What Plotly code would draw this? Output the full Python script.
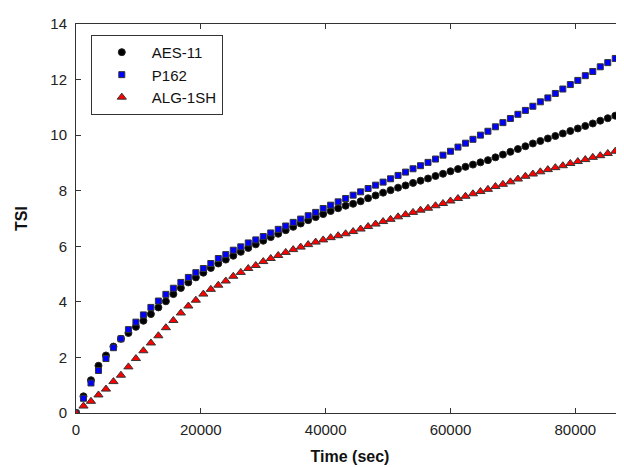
import plotly.graph_objects as go

time_sec = [i * 1200 for i in range(73)]

aes_11 = [0.0, 0.6, 1.18, 1.7, 2.07, 2.39, 2.67, 2.88, 3.1, 3.32, 3.56, 3.8, 4.02, 4.28, 4.5,
          4.7, 4.88, 5.05, 5.22, 5.38, 5.52, 5.66, 5.8, 5.94, 6.07, 6.2, 6.33, 6.45, 6.58, 6.7,
          6.82, 6.94, 7.05, 7.16, 7.27, 7.37, 7.46, 7.53, 7.62, 7.73, 7.83, 7.93, 8.02, 8.11, 8.19,
          8.28, 8.36, 8.44, 8.53, 8.61, 8.7, 8.78, 8.86, 8.94, 9.02, 9.1, 9.2, 9.3, 9.4, 9.5,
          9.6, 9.7, 9.79, 9.88, 9.97, 10.06, 10.15, 10.24, 10.33, 10.42, 10.52, 10.61, 10.7]

p162 = [0.0, 0.53, 1.08, 1.53, 1.96, 2.35, 2.67, 3.0, 3.27, 3.53, 3.8, 4.03, 4.27, 4.49, 4.7,
        4.88, 5.05, 5.2, 5.38, 5.56, 5.7, 5.86, 5.98, 6.12, 6.23, 6.35, 6.48, 6.61, 6.73, 6.86,
        6.98, 7.1, 7.22, 7.36, 7.48, 7.6, 7.72, 7.84, 7.96, 8.08, 8.2, 8.31, 8.43, 8.55, 8.67,
        8.79, 8.9, 9.02, 9.14, 9.28, 9.42, 9.57, 9.71, 9.85, 10.0, 10.14, 10.3, 10.45, 10.6, 10.75,
        10.89, 11.04, 11.2, 11.34, 11.5, 11.66, 11.82, 11.97, 12.14, 12.29, 12.46, 12.61, 12.76]

alg_1sh = [0.0, 0.25, 0.42, 0.65, 0.86, 1.13, 1.36, 1.66, 1.96, 2.24, 2.52, 2.78, 3.07, 3.33, 3.6,
           3.85, 4.06, 4.28, 4.45, 4.6, 4.75, 4.92, 5.06, 5.2, 5.31, 5.45, 5.56, 5.67, 5.78, 5.88,
           5.97, 6.06, 6.15, 6.23, 6.31, 6.38, 6.45, 6.53, 6.62, 6.71, 6.8, 6.89, 6.97, 7.06, 7.14,
           7.22, 7.3, 7.37, 7.46, 7.54, 7.63, 7.72, 7.8, 7.89, 7.97, 8.05, 8.15, 8.23, 8.32, 8.42,
           8.52, 8.6, 8.68, 8.76, 8.83, 8.9, 8.98, 9.05, 9.12, 9.2, 9.26, 9.34, 9.42]

series_names = ["AES-11", "P162", "ALG-1SH"]
x_ticks = [0, 20000, 40000, 60000, 80000]
y_ticks = [0, 2, 4, 6, 8, 10, 12, 14]

FONT = "Arial, Liberation Sans, sans-serif"

fig = go.Figure()
fig.add_trace(go.Scatter(
    x=time_sec, y=aes_11, mode="markers", name=series_names[0],
    marker=dict(symbol="circle", size=7, color="black", line=dict(color="#222222", width=1)),
))
fig.add_trace(go.Scatter(
    x=time_sec, y=p162, mode="markers", name=series_names[1],
    marker=dict(symbol="square", size=6, color="#0000ff", line=dict(color="#333333", width=1)),
))
fig.add_trace(go.Scatter(
    x=time_sec, y=alg_1sh, mode="markers", name=series_names[2],
    marker=dict(symbol="triangle-up", size=8, color="#ff0000", line=dict(color="#333333", width=1)),
))

axis_common = dict(
    showgrid=False, zeroline=False, showline=True, linecolor="#333333", linewidth=1,
    mirror="ticks", ticks="inside", ticklen=5, tickcolor="#333333", tickwidth=1,
    tickfont=dict(family=FONT, size=15, color="#222222"),
)

fig.update_layout(
    width=624, height=467,
    margin=dict(l=68, r=7, t=12, b=62),
    paper_bgcolor="white", plot_bgcolor="white",
    font=dict(family=FONT, size=15, color="#111111"),
    showlegend=True,
    legend=dict(
        x=0.027, y=0.972, xanchor="left", yanchor="top",
        bordercolor="#333333", borderwidth=1, bgcolor="white",
        font=dict(family=FONT, size=15, color="#111111"),
        tracegroupgap=0, itemwidth=50,
    ),
    xaxis=dict(
        range=[0, 87800], tickvals=x_ticks, ticktext=[str(v) for v in x_ticks],
        ticklabelstandoff=3,
        title=dict(text="<b>Time (sec)</b>", font=dict(family=FONT, size=16, color="#111111"), standoff=13),
        **axis_common,
    ),
    yaxis=dict(
        range=[0, 14], tickvals=y_ticks, ticktext=[str(v) for v in y_ticks],
        ticklabelstandoff=5,
        title=dict(text="<b>TSI</b>", font=dict(family=FONT, size=16, color="#111111"), standoff=18),
        **axis_common,
    ),
)

fig.write_html("out.html")
